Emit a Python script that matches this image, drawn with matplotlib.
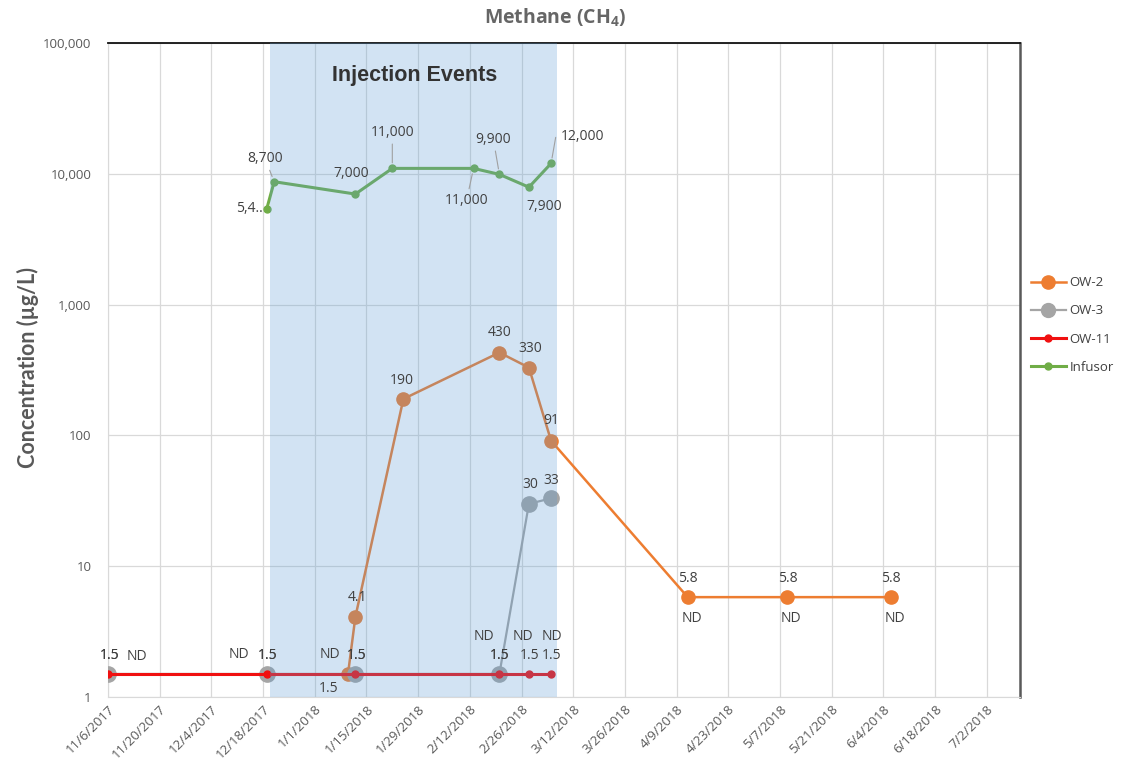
import datetime as dt

import matplotlib
matplotlib.use("Agg")
import matplotlib.pyplot as plt
import matplotlib.dates as mdates
from matplotlib.lines import Line2D
from matplotlib.ticker import FixedLocator, FuncFormatter, NullLocator

D = dt.datetime

# --- data -----------------------------------------------------------------
ow2_dates = [D(2018, 1, 10), D(2018, 1, 12), D(2018, 1, 25), D(2018, 2, 20),
             D(2018, 2, 28), D(2018, 3, 6), D(2018, 4, 12), D(2018, 5, 9),
             D(2018, 6, 6)]
ow2_vals = [1.5, 4.1, 190, 430, 330, 91, 5.8, 5.8, 5.8]

ow3_dates = [D(2017, 11, 6), D(2017, 12, 19), D(2018, 1, 12), D(2018, 2, 20),
             D(2018, 2, 28), D(2018, 3, 6)]
ow3_vals = [1.5, 1.5, 1.5, 1.5, 30, 33]

ow11_dates = [D(2017, 11, 6), D(2017, 12, 19), D(2018, 1, 12), D(2018, 2, 20),
              D(2018, 2, 28), D(2018, 3, 6)]
ow11_vals = [1.5, 1.5, 1.5, 1.5, 1.5, 1.5]

inf_dates = [D(2017, 12, 19), D(2017, 12, 21), D(2018, 1, 12), D(2018, 1, 22),
             D(2018, 2, 13), D(2018, 2, 20), D(2018, 2, 28), D(2018, 3, 6)]
inf_vals = [5400, 8700, 7000, 11000, 11000, 9900, 7900, 12000]

injection_start = D(2017, 12, 20)
injection_end = D(2018, 3, 7, 12)

x_start = D(2017, 11, 6)
x_end = D(2018, 7, 11)
y_ticks = [1, 10, 100, 1000, 10000, 100000]

# label offsets in pixels (dx, dy) for each point
inf_offsets = [(-20, 0), (-9, 23), (-4, 21), (0, 36), (-7, -32), (-6, 35),
               (15, -19), (36, 27)]
inf_leader = [False, True, False, True, True, True, False, True]
ow2_offsets = [(-19, -15), (2, 19), (-2, 18), (0, 20), (1, 19), (0, 20),
               (0, 19), (0, 19), (0, 19)]
ow3_offsets = [(2, 18), (1, 18), (1, 18), (0, 18), (1, 19), (0, 18)]
ow11_offsets = [(2, 18), (1, 18), (1, 18), (0, 18), (1, 18), (1, 18)]
nd_well_offsets = [(29, 17), (-28, 19), (-25, 19), (-15, 37), (-6, 37), (1, 37)]
nd_ow2_idx = [6, 7, 8]

ORANGE = "#ED7D31"
GRAY = "#A5A5A5"
RED = "#F01010"
GREEN = "#70AD47"
TXT = "#404040"
LABEL_SIZE = 10

plt.rcParams["font.family"] = ["Open Sans", "DejaVu Sans"]
plt.rcParams["mathtext.default"] = "regular"

fig = plt.figure(figsize=(11.24, 7.70), dpi=100)
ax = fig.add_axes([108 / 1124, 1 - 697 / 770, 912 / 1124, 654 / 770])

ax.set_yscale("log")
ax.set_ylim(1, 100000)
ax.set_xlim(x_start, x_end)

# series, drawn in workbook order
ax.plot(ow2_dates, ow2_vals, color=ORANGE, lw=1.8, marker="o", ms=9.5, zorder=3)
ax.plot(ow3_dates, ow3_vals, color=GRAY, lw=1.6, marker="o", ms=11, zorder=3)
ax.plot(ow11_dates, ow11_vals, color=RED, lw=2.2, marker="o", ms=5, zorder=3)
ax.plot(inf_dates, inf_vals, color=GREEN, lw=2.2, marker="o", ms=5, zorder=3)

# injection window overlay
ax.axvspan(injection_start, injection_end, color="#5B9BD5", alpha=0.27,
           lw=0, zorder=4)
ax.text(mdates.date2num(D(2018, 1, 28)), 56000, "Injection Events",
        family=["Liberation Sans", "DejaVu Sans"], fontsize=15.5,
        fontweight="bold", color="#333333", ha="center", va="center", zorder=6)


def put_label(x, y, s, off, leader=False, ha="center"):
    kw = {}
    if leader:
        kw["arrowprops"] = dict(arrowstyle="-", color="#a0a0a0", lw=0.8,
                                shrinkA=1, shrinkB=4)
    ax.annotate(s, (x, y), xytext=off, textcoords="offset pixels",
                ha=ha, va="center", fontsize=LABEL_SIZE, color=TXT, zorder=6,
                **kw)


for i, (x, v) in enumerate(zip(inf_dates, inf_vals)):
    s = f"{v:,}"
    if i == 0:
        put_label(x, v, s[:3] + "..", (-4, 0), ha="right")
    elif i == len(inf_vals) - 1:
        ax.annotate(s, (x, v), xytext=(10, 27), textcoords="offset pixels",
                    ha="left", va="center", fontsize=LABEL_SIZE, color=TXT,
                    zorder=6,
                    arrowprops=dict(arrowstyle="-", color="#a0a0a0", lw=0.8,
                                    shrinkA=2, shrinkB=4,
                                    connectionstyle="angle,angleA=0,angleB=80,rad=0"))
    else:
        put_label(x, v, s, inf_offsets[i], inf_leader[i])

for x, v, off in zip(ow2_dates, ow2_vals, ow2_offsets):
    put_label(x, v, f"{v:g}", off)
for i in nd_ow2_idx:
    put_label(ow2_dates[i], ow2_vals[i], "ND", (4, -21))

for x, v, off in zip(ow3_dates, ow3_vals, ow3_offsets):
    put_label(x, v, f"{v:g}", off)
for x, v, off in zip(ow11_dates, ow11_vals, ow11_offsets):
    put_label(x, v, f"{v:g}", off)
for x, v, off in zip(ow11_dates, ow11_vals, nd_well_offsets):
    put_label(x, v, "ND", off)

# axes styling
ax.yaxis.set_major_locator(FixedLocator(y_ticks))
ax.yaxis.set_minor_locator(NullLocator())
ax.yaxis.set_major_formatter(FuncFormatter(lambda v, p: f"{v:,.0f}"))
xt = [x_start + dt.timedelta(days=14 * k) for k in range(18)]
ax.set_xticks(xt)
ax.set_xticklabels([f"{d.month}/{d.day}/{d.year}" for d in xt])
ax.tick_params(axis="both", length=0, labelcolor="#595959")
ax.tick_params(axis="y", pad=12, labelsize=9.5)
ax.tick_params(axis="x", pad=4, labelsize=9.5)
for lab in ax.get_xticklabels():
    lab.set_rotation(45)
    lab.set_ha("right")
    lab.set_va("top")
    lab.set_rotation_mode("anchor")

ax.grid(True, which="major", color="#d9d9d9", lw=0.9)
ax.set_axisbelow(True)
for side in ("left", "bottom"):
    ax.spines[side].set_color("#d9d9d9")
ax.spines["top"].set_color("#111111")
ax.spines["top"].set_linewidth(1.3)
ax.spines["right"].set_color("#595959")
ax.spines["right"].set_linewidth(1.8)

fig.text(555 / 1124, 1 - 18 / 770, "Methane (CH$_4$)", ha="center",
         va="center", fontsize=14, fontweight="bold", color="#666666",
         family=["Open Sans", "DejaVu Sans"])
fig.text(28 / 1124, 1 - 368 / 770, "Concentration (µg/L)", rotation=90,
         ha="center", va="center", fontsize=15.5, fontweight="bold",
         color="#595959", family=["Lato", "DejaVu Sans"])

handles = [
    Line2D([], [], color=ORANGE, lw=1.8, marker="o", ms=9.5),
    Line2D([], [], color=GRAY, lw=1.6, marker="o", ms=10),
    Line2D([], [], color=RED, lw=2.2, marker="o", ms=5),
    Line2D([], [], color=GREEN, lw=2.2, marker="o", ms=5),
]
fig.legend(handles, ["OW-2", "OW-3", "OW-11", "Infusor"], loc="upper left",
           bbox_to_anchor=(1026 / 1124, 1 - 271 / 770), frameon=False,
           fontsize=9.5, handlelength=2.6, labelspacing=1.15,
           handletextpad=0.3, borderaxespad=0, labelcolor="#404040")

fig.savefig("out.png", dpi=100)
